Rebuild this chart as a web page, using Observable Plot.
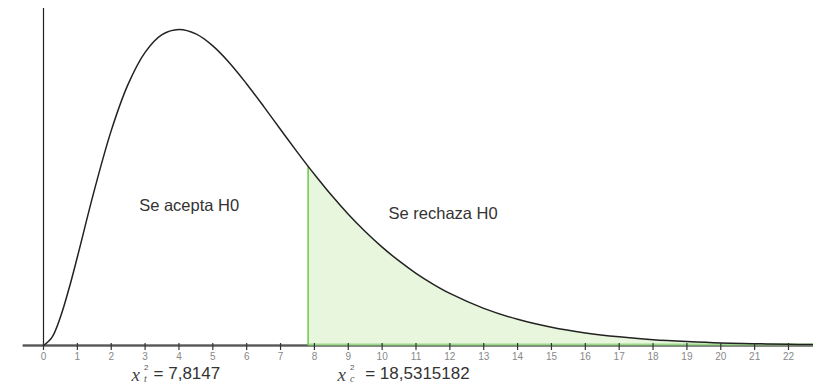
<!DOCTYPE html>
<html>
<head>
<meta charset="utf-8">
<script src="https://cdn.jsdelivr.net/npm/d3@7"></script>
<script src="https://cdn.jsdelivr.net/npm/@observablehq/plot@0.6"></script>
<style>
  html, body { margin: 0; padding: 0; background: #fff; }
</style>
</head>
<body>
<div id="chart"></div>
<script>
// Curve (x, height of the density)
const curveX = [0, 0.25, 0.5, 0.75, 1, 1.5, 2, 2.5, 3, 3.5, 4, 4.5, 5, 5.5, 6, 6.5, 7, 7.5, 7.8147, 8, 8.5, 9, 9.5, 10, 10.5, 11, 11.5, 12, 13, 14, 15, 16, 17, 18, 19, 20, 21, 22, 22.75];
const curveY = [0, 0.0035, 0.0122, 0.0242, 0.0379, 0.0664, 0.0920, 0.1119, 0.1255, 0.1331, 0.1353, 0.1334, 0.1283, 0.1209, 0.1120, 0.1024, 0.0925, 0.0827, 0.0767, 0.0733, 0.0644, 0.0562, 0.0488, 0.0421, 0.0362, 0.0309, 0.0263, 0.0223, 0.0159, 0.0112, 0.0078, 0.0054, 0.0037, 0.0025, 0.0017, 0.0011, 0.0008, 0.0005, 0.0004];
const criticalValue = 7.8147;
const statValue = "18,5315182";
const criticalLabel = "7,8147";
const tickValues = d3.range(0, 23);
const regionLabels = ["Se acepta H0", "Se rechaza H0"];

const curve = curveX.map((x, i) => ({x, y: curveY[i]}));
const tail = curve.filter(d => d.x >= criticalValue);
const critY = curveY[curveX.indexOf(criticalValue)];

const pxPerY = (345 - 29) / 0.1353;
const py = p => (345 - p) / pxPerY; // pixel offset helper for y

const font = "Liberation Sans, Arial, sans-serif";
const serif = "Liberation Serif, DejaVu Serif, serif";

const chart = Plot.plot({
  width: 813,
  height: 387,
  style: {background: "#fff", fontFamily: font},
  x: {domain: [0, 22], range: [43, 788], axis: null},
  y: {domain: [0, 0.1353], range: [345, 29], axis: null},
  marks: [
    // rejection area
    Plot.areaY(tail, {x: "x", y: "y", fill: "#e8f6de", curve: "catmull-rom"}),
    // horizontal axis line
    Plot.ruleY([0], {x1: -0.6, x2: 22.75, stroke: "#8a8a8a", strokeWidth: 3}),
    Plot.ruleY([0], {x1: -0.6, x2: 22.75, stroke: "#555", strokeWidth: 1}),
    Plot.ruleY([0], {x1: criticalValue, x2: 22.75, stroke: "#9bd98a", strokeWidth: 2, dy: -1}),
    // critical vertical line
    Plot.ruleX([criticalValue], {y1: 0, y2: critY, stroke: "#6cc84e", strokeWidth: 1.5}),
    // density curve
    Plot.line(curve, {x: "x", y: "y", stroke: "#222", strokeWidth: 1.5, curve: "catmull-rom"}),
    // vertical axis
    Plot.ruleX([0], {y1: 0, y2: py(8), stroke: "#222", strokeWidth: 1.2}),
    // ticks
    Plot.ruleX(tickValues, {x: d => d, y1: py(343), y2: py(350), stroke: "#333", strokeWidth: 1.2}),
    Plot.text(tickValues, {x: d => d, y: 0, dy: 11, text: d => String(d), fill: "#888", fontSize: 10, fontFamily: font}),
    // region labels
    Plot.text([regionLabels[0]], {x: 4.3, y: py(205), text: d => d, fontSize: 16.5, fill: "#333", fontFamily: font}),
    Plot.text([regionLabels[1]], {x: 11.8, y: py(213), text: d => d, fontSize: 16.5, fill: "#333", fontFamily: font}),
    // critical label: x_t^2 = 7,8147
    Plot.text(["x"], {x: 2.6, y: py(374), text: d => d, fontSize: 19, fontStyle: "italic", fontFamily: serif, fill: "#444", textAnchor: "start"}),
    Plot.text(["2"], {x: 2.97, y: py(367), text: d => d, fontSize: 8, fontFamily: font, fill: "#555", textAnchor: "start"}),
    Plot.text(["t"], {x: 2.97, y: py(378), text: d => d, fontSize: 10, fontStyle: "italic", fontFamily: serif, fill: "#555", textAnchor: "start"}),
    Plot.text(["= " + criticalLabel], {x: 3.25, y: py(373), text: d => d, fontSize: 17, fontFamily: font, fill: "#333", textAnchor: "start"}),
    // statistic label: x_c^2 = 18,5315182
    Plot.text(["x"], {x: 8.68, y: py(374), text: d => d, fontSize: 19, fontStyle: "italic", fontFamily: serif, fill: "#444", textAnchor: "start"}),
    Plot.text(["2"], {x: 9.05, y: py(367), text: d => d, fontSize: 8, fontFamily: font, fill: "#555", textAnchor: "start"}),
    Plot.text(["c"], {x: 9.05, y: py(378), text: d => d, fontSize: 10, fontStyle: "italic", fontFamily: serif, fill: "#555", textAnchor: "start"}),
    Plot.text(["= " + statValue], {x: 9.5, y: py(373), text: d => d, fontSize: 17, fontFamily: font, fill: "#333", textAnchor: "start"})
  ]
});
document.getElementById("chart").appendChild(chart);
</script>
</body>
</html>
